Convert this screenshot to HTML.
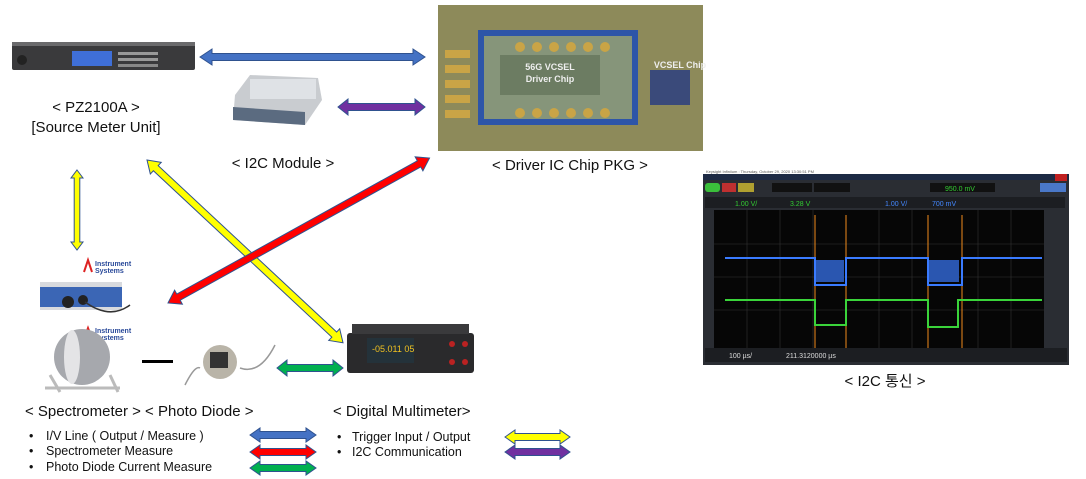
<!DOCTYPE html>
<html><head><meta charset="utf-8"><style>
html,body{margin:0;padding:0;background:#fff;}
svg{display:block;font-family:"Liberation Sans","Noto Sans CJK KR",sans-serif;}
</style></head><body>
<svg width="1086" height="479" viewBox="0 0 1086 479">

<!-- Source meter -->
<rect x="12" y="42" width="183" height="28" rx="2" fill="#3a3a3c"/>
<rect x="12" y="42" width="183" height="4" fill="#6a6a6c"/>
<circle cx="22" cy="60" r="5" fill="#222"/>
<rect x="72" y="51" width="40" height="15" fill="#3f6fd8"/>
<rect x="118" y="52" width="40" height="3" fill="#999"/><rect x="118" y="58" width="40" height="3" fill="#999"/><rect x="118" y="64" width="40" height="3" fill="#888"/>
<text x="96" y="112" font-size="15" text-anchor="middle" fill="#111">&lt; PZ2100A &gt;</text>
<text x="96" y="132" font-size="15" text-anchor="middle" fill="#111">[Source Meter Unit]</text>

<!-- I2C module -->
<path d="M235,95 L250,75 L318,78 L322,100 L305,125 L233,120 Z" fill="#c9ccd0"/>
<path d="M233,107 L305,112 L305,125 L233,120 Z" fill="#5b6b80"/>
<rect x="250" y="79" width="66" height="20" fill="#dfe2e6"/>
<text x="283" y="168" font-size="15" text-anchor="middle" fill="#111">&lt; I2C Module &gt;</text>

<!-- Chip photo -->
<rect x="438" y="5" width="265" height="146" fill="#8d8a5a"/>
<rect x="478" y="30" width="160" height="95" fill="#2d55a8"/>
<rect x="484" y="36" width="148" height="83" fill="#86957a"/>
<rect x="500" y="55" width="100" height="40" fill="#6c7c62"/>
<text x="550" y="70" font-size="9" fill="#eee" text-anchor="middle" font-weight="bold">56G VCSEL</text>
<text x="550" y="82" font-size="9" fill="#eee" text-anchor="middle" font-weight="bold">Driver Chip</text>
<rect x="650" y="70" width="40" height="35" fill="#3a4a7a"/>
<text x="680" y="68" font-size="9" fill="#eee" text-anchor="middle" font-weight="bold">VCSEL Chip</text>
<g fill="#c9a446"><circle cx="520" cy="47" r="5"/><circle cx="537" cy="47" r="5"/><circle cx="554" cy="47" r="5"/><circle cx="571" cy="47" r="5"/><circle cx="588" cy="47" r="5"/><circle cx="605" cy="47" r="5"/>
<circle cx="520" cy="113" r="5"/><circle cx="537" cy="113" r="5"/><circle cx="554" cy="113" r="5"/><circle cx="571" cy="113" r="5"/><circle cx="588" cy="113" r="5"/><circle cx="605" cy="113" r="5"/>
<rect x="445" y="50" width="25" height="8"/><rect x="445" y="65" width="25" height="8"/><rect x="445" y="80" width="25" height="8"/><rect x="445" y="95" width="25" height="8"/><rect x="445" y="110" width="25" height="8"/></g>
<text x="570" y="170" font-size="15" text-anchor="middle" fill="#111">&lt; Driver IC Chip PKG &gt;</text>

<!-- Oscilloscope -->
<rect x="703" y="168" width="366" height="197" fill="#2a2d33"/>
<rect x="703" y="168" width="366" height="6" fill="#fff"/>
<text x="706" y="173" font-size="4" fill="#555">Keysight Infiniium : Thursday, October 29, 2020 13:30:51 PM</text>
<rect x="703" y="174" width="366" height="6" fill="#1d2a44"/>
<rect x="1055" y="174" width="12" height="7" fill="#c02020"/>
<rect x="705" y="183" width="15" height="9" rx="3" fill="#3bbf3b"/>
<rect x="722" y="183" width="14" height="9" fill="#c03030"/>
<rect x="738" y="183" width="16" height="9" fill="#b0a030"/>
<rect x="772" y="183" width="40" height="9" fill="#111"/><rect x="814" y="183" width="36" height="9" fill="#111"/>
<rect x="930" y="183" width="65" height="9" fill="#111"/>
<text x="945" y="191" font-size="7" fill="#3c3">950.0 mV</text>
<rect x="1040" y="183" width="26" height="9" fill="#4a78c8"/>
<rect x="705" y="197" width="360" height="11" fill="#1c1e22"/>
<text x="735" y="206" font-size="7" fill="#3c3">1.00 V/</text>
<text x="790" y="206" font-size="7" fill="#3c3">3.28 V</text>
<text x="885" y="206" font-size="7" fill="#48f">1.00 V/</text>
<text x="932" y="206" font-size="7" fill="#48f">700 mV</text>
<rect x="714" y="210" width="330" height="138" fill="#060606"/>
<g stroke="#333" stroke-width="0.6">
<line x1="714" y1="244" x2="1044" y2="244"/><line x1="714" y1="277" x2="1044" y2="277"/><line x1="714" y1="310" x2="1044" y2="310"/>
<line x1="747" y1="210" x2="747" y2="348"/><line x1="780" y1="210" x2="780" y2="348"/><line x1="813" y1="210" x2="813" y2="348"/><line x1="879" y1="210" x2="879" y2="348"/><line x1="912" y1="210" x2="912" y2="348"/><line x1="978" y1="210" x2="978" y2="348"/><line x1="1011" y1="210" x2="1011" y2="348"/></g>
<g stroke="#f08a1c" stroke-width="1"><line x1="815" y1="215" x2="815" y2="348"/><line x1="846" y1="215" x2="846" y2="348"/><line x1="928" y1="215" x2="928" y2="348"/><line x1="962" y1="215" x2="962" y2="348"/></g>
<polyline points="725,258 815,258 815,285 846,285 846,258 928,258 928,285 962,285 962,258 1042,258" fill="none" stroke="#3a7bff" stroke-width="2"/>
<rect x="816" y="260" width="28" height="22" fill="#2a56b0"/><rect x="929" y="260" width="30" height="22" fill="#2a56b0"/>
<polyline points="725,300 815,300 815,325 846,325 846,300 928,300 928,327 958,327 958,300 1042,300" fill="none" stroke="#3ad43a" stroke-width="2"/>
<rect x="705" y="348" width="362" height="14" fill="#1c1e22"/>
<text x="729" y="358" font-size="7" fill="#ddd">100 µs/</text>
<text x="786" y="358" font-size="7" fill="#ddd">211.3120000 µs</text>
<text x="885" y="386" font-size="15" text-anchor="middle" fill="#111">&lt; I2C 통신 &gt;</text>

<!-- Instrument Systems logos -->
<text x="95" y="266" font-size="7" fill="#2a4a9a" font-weight="bold">Instrument</text>
<text x="95" y="273" font-size="7" fill="#2a4a9a" font-weight="bold">Systems</text>
<path d="M84,272 L88,260 L92,272" fill="none" stroke="#d22" stroke-width="2"/>
<text x="95" y="333" font-size="7" fill="#2a4a9a" font-weight="bold">Instrument</text>
<text x="95" y="340" font-size="7" fill="#2a4a9a" font-weight="bold">Systems</text>
<path d="M84,339 L88,328 L92,339" fill="none" stroke="#d22" stroke-width="2"/>

<!-- Spectrometer box -->
<rect x="40" y="282" width="82" height="28" fill="#d8dade"/>
<rect x="40" y="287" width="82" height="20" fill="#3b66b5"/>
<circle cx="68" cy="302" r="6" fill="#222"/><circle cx="83" cy="300" r="5" fill="#222"/>
<path d="M85,302 Q110,320 130,305" fill="none" stroke="#333" stroke-width="1.5"/>
<!-- sphere -->
<circle cx="82" cy="357" r="28" fill="#a6a8ad"/>
<ellipse cx="72" cy="357" rx="8" ry="27" fill="#e4e4e6"/>
<path d="M45,388 L120,388 M50,375 L60,392 M110,375 L118,392" stroke="#bbb" stroke-width="3"/>
<rect x="142" y="360" width="31" height="3" fill="#000"/>
<!-- photodiode -->
<circle cx="220" cy="362" r="17" fill="#b9b4a8"/>
<rect x="210" y="352" width="18" height="16" fill="#333"/>
<path d="M185,385 Q195,365 200,368 M240,368 Q260,375 275,345" fill="none" stroke="#999" stroke-width="1.5"/>
<!-- DMM -->
<rect x="347" y="333" width="127" height="40" rx="3" fill="#2a2a2c"/>
<rect x="352" y="324" width="117" height="10" fill="#3a3a3c"/>
<rect x="367" y="338" width="47" height="25" fill="#24323a"/>
<text x="372" y="352" font-size="9" fill="#f0c020">-05.011 05</text>
<g fill="#b22"><circle cx="452" cy="344" r="3"/><circle cx="465" cy="344" r="3"/><circle cx="452" cy="362" r="3"/><circle cx="465" cy="362" r="3"/></g>

<!-- Labels bottom -->
<text x="25" y="416" font-size="15" fill="#111">&lt; Spectrometer &gt; &lt; Photo Diode &gt;</text>
<text x="333" y="416" font-size="15" fill="#111">&lt; Digital Multimeter&gt;</text>
<g font-size="12.5" fill="#111">
<text x="29" y="440">•</text><text x="46" y="440">I/V Line ( Output / Measure )</text>
<text x="29" y="455">•</text><text x="46" y="455">Spectrometer Measure</text>
<text x="29" y="471">•</text><text x="46" y="471">Photo Diode Current Measure</text>
<text x="337" y="441">•</text><text x="352" y="441">Trigger Input / Output</text>
<text x="337" y="456">•</text><text x="352" y="456">I2C Communication</text>
</g>

<!-- Arrows -->
<g stroke="#2f528f" stroke-width="1">
<polygon fill="#4472c4" transform="translate(200,57)" points="0,0 12,-8 12,-3.5 213,-3.5 213,-8 225,0 213,8 213,3.5 12,3.5 12,8"/>
<polygon fill="#7030a0" transform="translate(338,107)" points="0,0 10,-8 10,-3.5 77,-3.5 77,-8 87,0 77,8 77,3.5 10,3.5 10,8"/>
<polygon fill="#ffff00" transform="translate(77,170) rotate(90)" points="0,0 8,-6 8,-2.8 72,-2.8 72,-6 80,0 72,6 72,2.8 8,2.8 8,6"/>
<polygon fill="#ffff00" transform="translate(147,160) rotate(43)" points="0,0 12,-8 12,-3.5 256,-3.5 256,-8 268,0 256,8 256,3.5 12,3.5 12,8"/>
<polygon fill="#ff0000" transform="translate(168,303) rotate(-29)" points="0,0 12,-8 12,-3.5 287,-3.5 287,-8 299,0 287,8 287,3.5 12,3.5 12,8"/>
<polygon fill="#00b050" transform="translate(277,368)" points="0,0 10,-8 10,-3.5 56,-3.5 56,-8 66,0 56,8 56,3.5 10,3.5 10,8"/>
<polygon fill="#4472c4" transform="translate(250,435)" points="0,0 10,-7 10,-3.5 56,-3.5 56,-7 66,0 56,7 56,3.5 10,3.5 10,7"/>
<polygon fill="#ff0000" transform="translate(250,452)" points="0,0 10,-7 10,-3.5 56,-3.5 56,-7 66,0 56,7 56,3.5 10,3.5 10,7"/>
<polygon fill="#00b050" transform="translate(250,468)" points="0,0 10,-7 10,-3.5 56,-3.5 56,-7 66,0 56,7 56,3.5 10,3.5 10,7"/>
<polygon fill="#ffff00" transform="translate(505,437)" points="0,0 10,-7 10,-3.5 55,-3.5 55,-7 65,0 55,7 55,3.5 10,3.5 10,7"/>
<polygon fill="#7030a0" transform="translate(505,452)" points="0,0 10,-7 10,-3.5 55,-3.5 55,-7 65,0 55,7 55,3.5 10,3.5 10,7"/>
</g>
</svg>
</body></html>
